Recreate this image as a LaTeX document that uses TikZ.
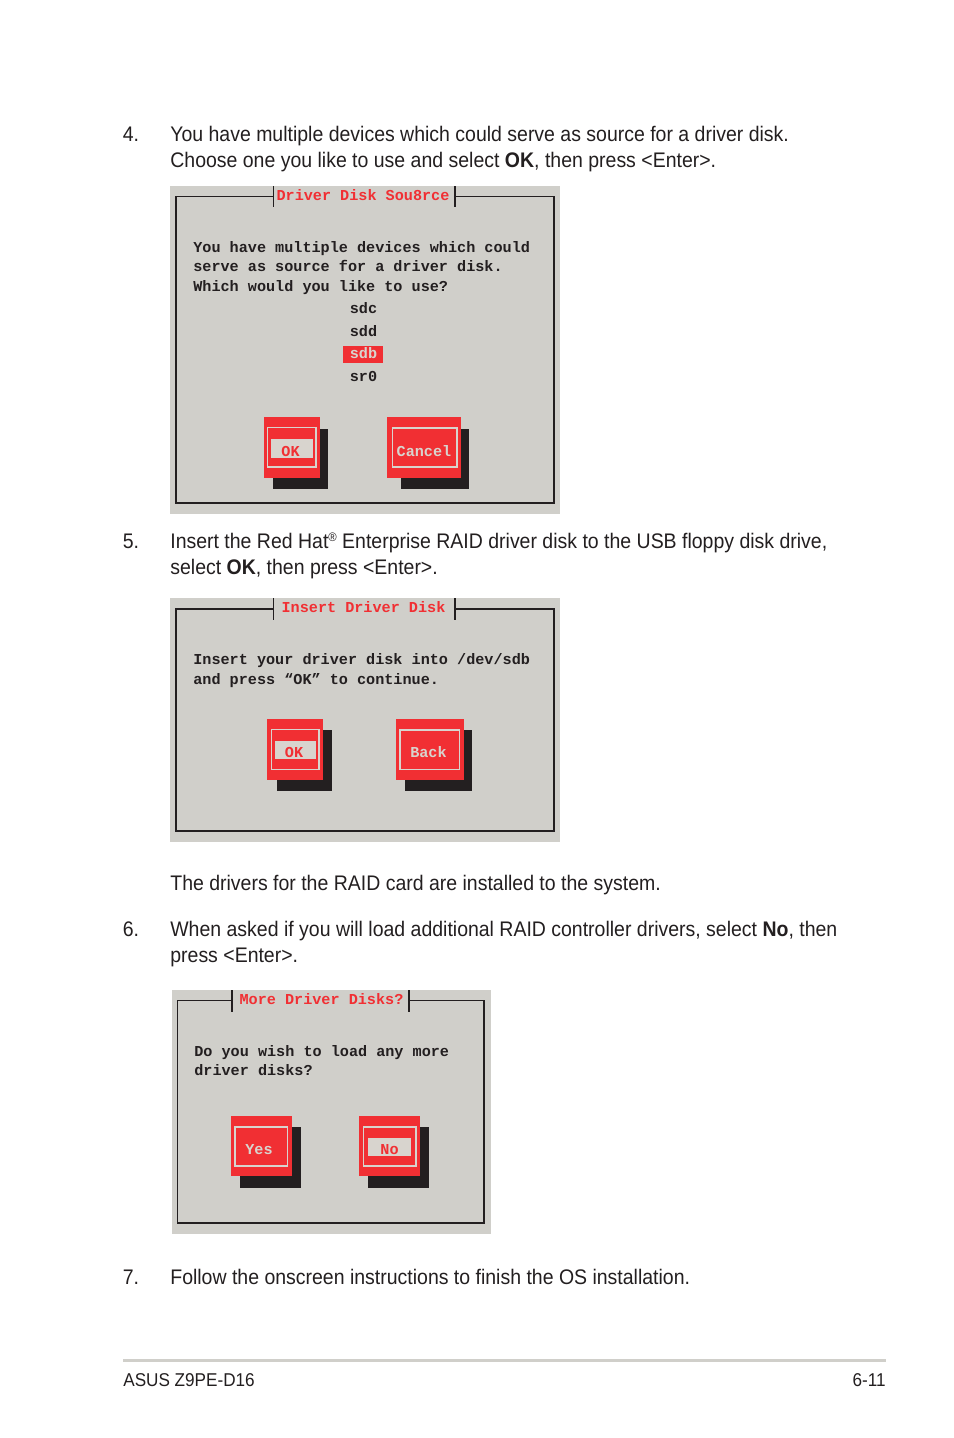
\documentclass[tikz,border=0pt]{standalone}
\usepackage{xcolor}
\usepackage{fontspec}
\setmainfont{Liberation Sans}[FakeStretch=0.924]
\setmonofont{Liberation Mono}
\definecolor{panelgray}{HTML}{D0CFCA}
\definecolor{btnred}{HTML}{F12F33}
\definecolor{btnlight}{HTML}{D8D4CE}
\definecolor{inkblack}{HTML}{231F20}

\tikzset{
  bodytext/.style={anchor=base west, inner sep=0pt, text=inkblack, font=\fontsize{12}{14}\selectfont},
  foottext/.style={inner sep=0pt, text=inkblack, font=\fontsize{10.55}{12}\selectfont},
  termtext/.style={anchor=base west, inner sep=0pt, text=inkblack, font=\ttfamily\bfseries\fontsize{8.63}{10}\selectfont},
  listtext/.style={termtext, anchor=base},
  redtext/.style={termtext, anchor=base, text=btnred},
  lighttext/.style={termtext, anchor=base, text=btnlight},
  panel/.style={fill=panelgray},
  frame/.style={draw=inkblack, line width=1.05pt},
  tick/.style={draw=inkblack, line width=0.6pt},
  boldtick/.style={draw=inkblack, line width=1.1pt},
  btnface/.style={fill=btnred},
  btnshadow/.style={fill=inkblack},
  btnline/.style={draw=btnlight, line width=0.9pt},
  btnmark/.style={fill=btnlight}
}

\begin{document}
\begin{tikzpicture}[x=0.02cm, y=-0.02cm]
\useasboundingbox (0,0) rectangle (954,1438);
\fill[white] (0,0) rectangle (954,1438);

% step 4
\node (numfour) [bodytext] at (122.5,141) {4.};
\node (stepfoura) [bodytext] at (170,141) {You have multiple devices which could serve as source for a driver disk.};
\node (stepfourb) [bodytext] at (170,167) {Choose one you like to use and select \textbf{OK}, then press <Enter>.};

% first dialog
\fill[panel] (170,186) rectangle (560,514);
\draw[frame] (273.5,196.5) -- (176,196.5) -- (176,503) -- (554,503) -- (554,196.5) -- (455,196.5);
\draw[tick] (273.5,186) -- (273.5,207);
\draw[boldtick] (455,186) -- (455,207);
\node (sourcetitle) [redtext] at (363,200) {Driver Disk Sou8rce};
\node (sourcea) [termtext] at (193,252) {You have multiple devices which could};
\node (sourceb) [termtext] at (193,271) {serve as source for a driver disk.};
\node (sourcec) [termtext] at (193,291) {Which would you like to use?};
\node (sdc) [listtext] at (363.5,313) {sdc};
\node (sdd) [listtext] at (363.5,336) {sdd};
\fill[btnface] (343,346) rectangle (383,363);
\node (sdb) [lighttext] at (363.5,358) {sdb};
\node (srzero) [listtext] at (363.5,381) {sr0};

\fill[btnshadow] (273,429) rectangle (328,489);
\fill[btnface] (264,417) rectangle (320,478);
\draw[btnline] (267.5,427.5) rectangle (316,467);
\fill[btnmark] (271,439) rectangle (313,458);
\node (sourceok) [redtext] at (290.5,456) {OK};

\fill[btnshadow] (401,429) rectangle (469,489);
\fill[btnface] (387,417) rectangle (461,478);
\draw[btnline] (392.5,428) rectangle (457,467);
\node (sourcecancel) [lighttext] at (424,456) {Cancel};

% step 5
\node (numfive) [bodytext] at (122.5,548) {5.};
\node (stepfivea) [bodytext] at (170,548) {Insert the Red Hat\raisebox{3.6pt}{\fontsize{7}{8}\selectfont\textregistered} Enterprise RAID driver disk to the USB floppy disk drive,};
\node (stepfiveb) [bodytext] at (170,574) {select \textbf{OK}, then press <Enter>.};

% second dialog
\fill[panel] (170,598) rectangle (560,842);
\draw[frame] (273.5,609) -- (176,609) -- (176,831) -- (554,831) -- (554,609) -- (455,609);
\draw[tick] (273.5,598) -- (273.5,620);
\draw[boldtick] (455,598) -- (455,620);
\node (inserttitle) [redtext] at (363.5,612) {Insert Driver Disk};
\node (inserta) [termtext] at (193,664) {Insert your driver disk into /dev/sdb};
\node (insertb) [termtext] at (193,684) {and press “OK” to continue.};

\fill[btnshadow] (277,730) rectangle (332,791);
\fill[btnface] (267,719) rectangle (323,780);
\draw[btnline] (271.5,729.5) rectangle (319,769.5);
\fill[btnmark] (275,741) rectangle (316,759);
\node (insertok) [redtext] at (294,757) {OK};

\fill[btnshadow] (405,730) rectangle (472,791);
\fill[btnface] (396,719) rectangle (464,780);
\draw[btnline] (400,730) rectangle (459.5,769.5);
\node (insertback) [lighttext] at (428.5,757) {Back};

\node (driversdone) [bodytext] at (170,890) {The drivers for the RAID card are installed to the system.};

% step 6
\node (numsix) [bodytext] at (122.5,936) {6.};
\node (stepsixa) [bodytext] at (170,936) {When asked if you will load additional RAID controller drivers, select \textbf{No}, then};
\node (stepsixb) [bodytext] at (170,962) {press <Enter>.};

% third dialog
\fill[panel] (172,990) rectangle (491,1234);
\draw[frame] (232,1000.5) -- (177.5,1000.5) -- (177.5,1223) -- (484,1223) -- (484,1000.5) -- (409,1000.5);
\draw[boldtick] (232,990) -- (232,1012);
\draw[boldtick] (409,990) -- (409,1012);
\node (moretitle) [redtext] at (321.5,1004) {More Driver Disks?};
\node (morea) [termtext] at (194,1056) {Do you wish to load any more};
\node (moreb) [termtext] at (194,1075) {driver disks?};

\fill[btnshadow] (240,1127) rectangle (301,1188);
\fill[btnface] (231,1116) rectangle (292,1176);
\draw[btnline] (235,1127) rectangle (287.5,1166);
\node (moreyes) [lighttext] at (259,1154) {Yes};

\fill[btnshadow] (368,1127) rectangle (429,1188);
\fill[btnface] (359,1116) rectangle (420,1176);
\draw[btnline] (363.5,1127) rectangle (416,1166);
\fill[btnmark] (368,1138) rectangle (411,1156);
\node (moreno) [redtext] at (389.5,1154) {No};

% step 7
\node (numseven) [bodytext] at (122.5,1284) {7.};
\node (stepseven) [bodytext] at (170,1284) {Follow the onscreen instructions to finish the OS installation.};

% footer
\draw[draw=panelgray, line width=1.7pt] (123,1360) -- (886,1360);
\node (footleft) [foottext, anchor=base west] at (123,1386) {ASUS Z9PE-D16};
\node (footright) [foottext, anchor=base east] at (886,1386) {6-11};
\end{tikzpicture}
\end{document}
